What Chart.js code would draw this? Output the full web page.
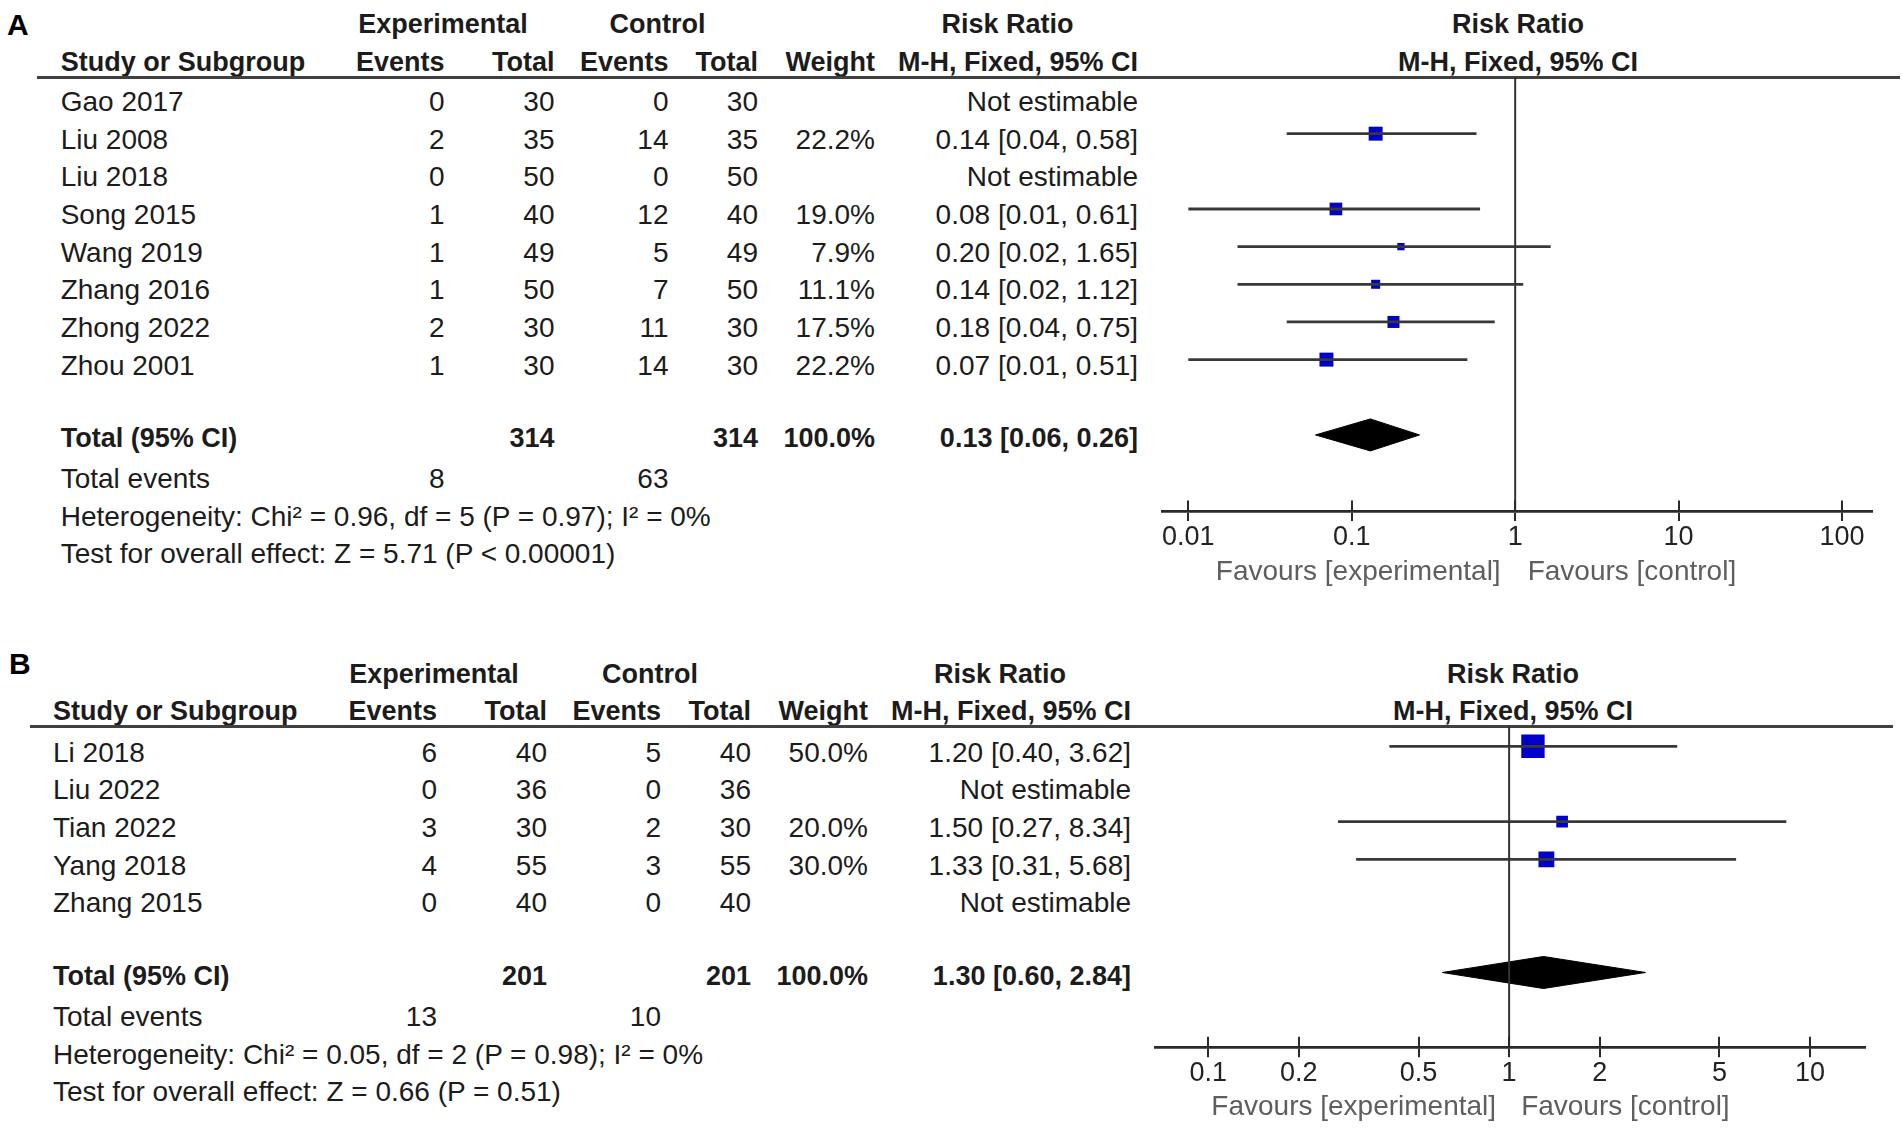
<!DOCTYPE html>
<html><head><meta charset="utf-8">
<script src="https://cdn.jsdelivr.net/npm/chart.js@4.4.1/dist/chart.umd.min.js"></script>
<style>
html,body{margin:0;padding:0;background:#fff;}
#page{position:relative;width:1902px;height:1132px;overflow:hidden;background:#fff;font-family:"Liberation Sans",Arial,sans-serif;color:#1c1c1c;}
.t{position:absolute;white-space:nowrap;line-height:1;}
.hl{position:absolute;background:#404040;}
canvas{position:absolute;}
</style></head><body><div id="page"></div>
<script>
// ---------------- DATA: panel A ----------------
const studiesA   = ['Gao 2017','Liu 2008','Liu 2018','Song 2015','Wang 2019','Zhang 2016','Zhong 2022','Zhou 2001'];
const expEventsA = [0, 2, 0, 1, 1, 1, 2, 1];
const expTotalA  = [30, 35, 50, 40, 49, 50, 30, 30];
const ctlEventsA = [0, 14, 0, 12, 5, 7, 11, 14];
const ctlTotalA  = [30, 35, 50, 40, 49, 50, 30, 30];
const weightA    = [null, 22.2, null, 19.0, 7.9, 11.1, 17.5, 22.2];
const rrA        = [null, 0.14, null, 0.08, 0.20, 0.14, 0.18, 0.07];
const loA        = [null, 0.04, null, 0.01, 0.02, 0.02, 0.04, 0.01];
const hiA        = [null, 0.58, null, 0.61, 1.65, 1.12, 0.75, 0.51];
const totalA     = {exp: 314, ctl: 314, weight: 100.0, rr: 0.13, lo: 0.06, hi: 0.26, expEv: 8, ctlEv: 63};
const hetA       = 'Heterogeneity: Chi\u00B2 = 0.96, df = 5 (P = 0.97); I\u00B2 = 0%';
const testA      = 'Test for overall effect: Z = 5.71 (P < 0.00001)';
const ticksA     = [0.01, 0.1, 1, 10, 100];

// ---------------- DATA: panel B ----------------
const studiesB   = ['Li 2018','Liu 2022','Tian 2022','Yang 2018','Zhang 2015'];
const expEventsB = [6, 0, 3, 4, 0];
const expTotalB  = [40, 36, 30, 55, 40];
const ctlEventsB = [5, 0, 2, 3, 0];
const ctlTotalB  = [40, 36, 30, 55, 40];
const weightB    = [50.0, null, 20.0, 30.0, null];
const rrB        = [1.20, null, 1.50, 1.33, null];
const loB        = [0.40, null, 0.27, 0.31, null];
const hiB        = [3.62, null, 8.34, 5.68, null];
const totalB     = {exp: 201, ctl: 201, weight: 100.0, rr: 1.30, lo: 0.60, hi: 2.84, expEv: 13, ctlEv: 10};
const hetB       = 'Heterogeneity: Chi\u00B2 = 0.05, df = 2 (P = 0.98); I\u00B2 = 0%';
const testB      = 'Test for overall effect: Z = 0.66 (P = 0.51)';
const ticksB     = [0.1, 0.2, 0.5, 1, 2, 5, 10];

// ---------------- LAYOUT ----------------
const layoutA = {
  label:'A', labelX:7, labelBase:35,
  head1:34, head2:71.5, rowBase0:111.7, rowStep:37.65,
  totalBase:447.7, eventsBase:488.7, hetBase:526.3, testBase:563.9,
  cols:{study:60.7, ev1:444.5, tot1:554.5, ev2:668.5, tot2:758, wt:875, ci:1138},
  expC:443, ctlC:657.6, rrC:1007.5, plotC:1518,
  lineTop:75.6, lineLeft:37, lineRight:1900,
  canvas:{left:1150, top:0, w:752, h:620},
  pad:{left:12, right:30, top:77, bottom:49}, axisH:60,
  yMin:-0.5045, yMax:11.02, xMin:0.0069, xMax:152.6,
  sizeK:1.98, sizeP:0.63, favBase:581, favGapL:14.5, favGapR:12.5
};
const layoutB = {
  label:'B', labelX:9, labelBase:674,
  head1:683.5, head2:721, rowBase0:762.5, rowStep:37.65,
  totalBase:986, eventsBase:1026.7, hetBase:1064.3, testBase:1102,
  cols:{study:53, ev1:437, tot1:547, ev2:661, tot2:751, wt:868, ci:1131},
  expC:434, ctlC:650, rrC:1000, plotC:1513,
  lineTop:724.6, lineLeft:30, lineRight:1893,
  canvas:{left:1150, top:620, w:752, h:512},
  pad:{left:5.7, right:37, top:106, bottom:24.7}, axisH:60,
  yMin:-0.538, yMax:7.984, xMin:0.0669, xMax:15.23,
  sizeK:1.195, sizeP:0.76, favBase:1116, favGapL:13, favGapR:12
};

const page = document.getElementById('page');
const FONT = '"Liberation Sans", Arial, sans-serif';
function txt(s, x, base, align, o) {
  o = o || {};
  const fs = o.size || 28;
  const d = document.createElement('div');
  d.className = 't';
  d.textContent = s;
  d.style.fontSize = fs + 'px';
  if (o.bold) d.style.fontWeight = 'bold';
  if (o.color) d.style.color = o.color;
  d.style.top = (base - 0.8465 * fs) + 'px';
  d.style.left = x + 'px';
  if (align === 'right') d.style.transform = 'translateX(-100%)';
  else if (align === 'center') d.style.transform = 'translateX(-50%)';
  page.appendChild(d);
  return d;
}
const ci = (r, l, h) => r.toFixed(2) + ' [' + l.toFixed(2) + ', ' + h.toFixed(2) + ']';

const upperTicks = {
  id: 'upperTicks',
  afterDraw(chart) {
    const xs = chart.scales.x, ctx = chart.ctx, y = xs.top;
    ctx.save();
    ctx.strokeStyle = '#2a2a2a';
    ctx.lineWidth = 2;
    xs.ticks.forEach(t => {
      const px = Math.round(xs.getPixelForValue(t.value));
      ctx.beginPath(); ctx.moveTo(px, y - 10.5); ctx.lineTo(px, y + 1); ctx.stroke();
    });
    ctx.restore();
  }
};

function buildPanel(L, D) {
  const B = 27;
  txt(L.label, L.labelX, L.labelBase, 'left', {bold:true, size:30, color:'#000'});
  // header row 1
  txt('Experimental', L.expC, L.head1, 'center', {bold:true, size:B});
  txt('Control', L.ctlC, L.head1, 'center', {bold:true, size:B});
  txt('Risk Ratio', L.rrC, L.head1, 'center', {bold:true, size:B});
  txt('Risk Ratio', L.plotC, L.head1, 'center', {bold:true, size:B});
  // header row 2
  const c = L.cols;
  txt('Study or Subgroup', c.study, L.head2, 'left', {bold:true, size:B});
  txt('Events', c.ev1, L.head2, 'right', {bold:true, size:B});
  txt('Total', c.tot1, L.head2, 'right', {bold:true, size:B});
  txt('Events', c.ev2, L.head2, 'right', {bold:true, size:B});
  txt('Total', c.tot2, L.head2, 'right', {bold:true, size:B});
  txt('Weight', c.wt, L.head2, 'right', {bold:true, size:B});
  txt('M-H, Fixed, 95% CI', c.ci, L.head2, 'right', {bold:true, size:B});
  txt('M-H, Fixed, 95% CI', L.plotC, L.head2, 'center', {bold:true, size:B});
  // header rule
  const hl = document.createElement('div');
  hl.className = 'hl';
  hl.style.left = L.lineLeft + 'px'; hl.style.top = L.lineTop + 'px';
  hl.style.width = (L.lineRight - L.lineLeft) + 'px'; hl.style.height = '3px';
  page.appendChild(hl);
  // study rows
  D.studies.forEach((s, i) => {
    const yb = L.rowBase0 + i * L.rowStep;
    txt(s, c.study, yb, 'left');
    txt(String(D.expEv[i]), c.ev1, yb, 'right');
    txt(String(D.expTot[i]), c.tot1, yb, 'right');
    txt(String(D.ctlEv[i]), c.ev2, yb, 'right');
    txt(String(D.ctlTot[i]), c.tot2, yb, 'right');
    if (D.w[i] != null) txt(D.w[i].toFixed(1) + '%', c.wt, yb, 'right');
    txt(D.rr[i] != null ? ci(D.rr[i], D.lo[i], D.hi[i]) : 'Not estimable', c.ci, yb, 'right');
  });
  const T = D.total;
  txt('Total (95% CI)', c.study, L.totalBase, 'left', {bold:true, size:B});
  txt(String(T.exp), c.tot1, L.totalBase, 'right', {bold:true, size:B});
  txt(String(T.ctl), c.tot2, L.totalBase, 'right', {bold:true, size:B});
  txt(T.weight.toFixed(1) + '%', c.wt, L.totalBase, 'right', {bold:true, size:B});
  txt(ci(T.rr, T.lo, T.hi), c.ci, L.totalBase, 'right', {bold:true, size:B});
  txt('Total events', c.study, L.eventsBase, 'left');
  txt(String(T.expEv), c.ev1, L.eventsBase, 'right');
  txt(String(T.ctlEv), c.ev2, L.eventsBase, 'right');
  txt(D.het, c.study, L.hetBase, 'left');
  txt(D.test, c.study, L.testBase, 'left');

  // chart
  const cv = document.createElement('canvas');
  cv.width = L.canvas.w; cv.height = L.canvas.h;
  cv.style.left = L.canvas.left + 'px'; cv.style.top = L.canvas.top + 'px';
  cv.style.width = L.canvas.w + 'px'; cv.style.height = L.canvas.h + 'px';
  page.appendChild(cv);

  const n = D.studies.length;
  const totRow = n + 1;
  const datasets = [];
  datasets.push({
    data: [{x:1, y:L.yMin}, {x:1, y:L.yMax}],
    borderColor:'#333', borderWidth:2, pointRadius:0, fill:false
  });
  D.studies.forEach((s, i) => {
    if (D.rr[i] == null) return;
    datasets.push({
      data: [{x:D.lo[i], y:i}, {x:D.hi[i], y:i}],
      borderColor:'#383838', borderWidth:2.8, pointRadius:0, fill:false
    });
  });
  const pts = [], rad = [];
  D.studies.forEach((s, i) => {
    if (D.rr[i] == null) return;
    pts.push({x:D.rr[i], y:i});
    rad.push(L.sizeK * Math.pow(D.w[i], L.sizeP) / (2 * Math.SQRT1_2));
  });
  datasets.push({
    data: pts, showLine:false, pointStyle:'rect', pointRadius:rad,
    pointBackgroundColor:'#0000C8', pointBorderWidth:0, pointBorderColor:'#0000C8'
  });
  const hh = 0.425;
  datasets.push({
    data: [{x:T.lo, y:totRow}, {x:T.rr, y:totRow - hh}, {x:T.hi, y:totRow}, {x:T.rr, y:totRow + hh}, {x:T.lo, y:totRow}],
    borderColor:'#000', borderWidth:1, backgroundColor:'#000', fill:'shape', pointRadius:0, tension:0
  });

  const chart = new Chart(cv, {
    type:'line',
    data:{datasets},
    plugins:[upperTicks],
    options:{
      responsive:false, animation:false, events:[],
      devicePixelRatio: 1,
      layout:{padding:L.pad, autoPadding:false},
      plugins:{legend:{display:false}, tooltip:{enabled:false}},
      scales:{
        x:{
          type:'logarithmic', position:'bottom', min:L.xMin, max:L.xMax,
          afterBuildTicks(scale){ scale.ticks = D.ticks.map(v => ({value:v})); },
          afterFit(scale){ scale.height = L.axisH; },
          grid:{display:true, drawOnChartArea:false, drawTicks:true, tickLength:10, lineWidth:2, color:'#2a2a2a'},
          border:{display:true, width:2.7, color:'#2a2a2a'},
          ticks:{autoSkip:false, maxRotation:0, minRotation:0, padding:0, color:'#222',
                 font:{family:FONT, size:27}, callback:(v) => String(v)}
        },
        y:{type:'linear', display:false, reverse:true, min:L.yMin, max:L.yMax}
      }
    }
  });
  const x1 = L.canvas.left + chart.scales.x.getPixelForValue(1);
  txt('Favours [experimental]', x1 - L.favGapL, L.favBase, 'right', {color:'#5e5e5e'});
  txt('Favours [control]', x1 + L.favGapR, L.favBase, 'left', {color:'#5e5e5e'});
}

buildPanel(layoutA, {studies:studiesA, expEv:expEventsA, expTot:expTotalA, ctlEv:ctlEventsA, ctlTot:ctlTotalA,
  w:weightA, rr:rrA, lo:loA, hi:hiA, total:totalA, het:hetA, test:testA, ticks:ticksA});
buildPanel(layoutB, {studies:studiesB, expEv:expEventsB, expTot:expTotalB, ctlEv:ctlEventsB, ctlTot:ctlTotalB,
  w:weightB, rr:rrB, lo:loB, hi:hiB, total:totalB, het:hetB, test:testB, ticks:ticksB});
</script></body></html>
